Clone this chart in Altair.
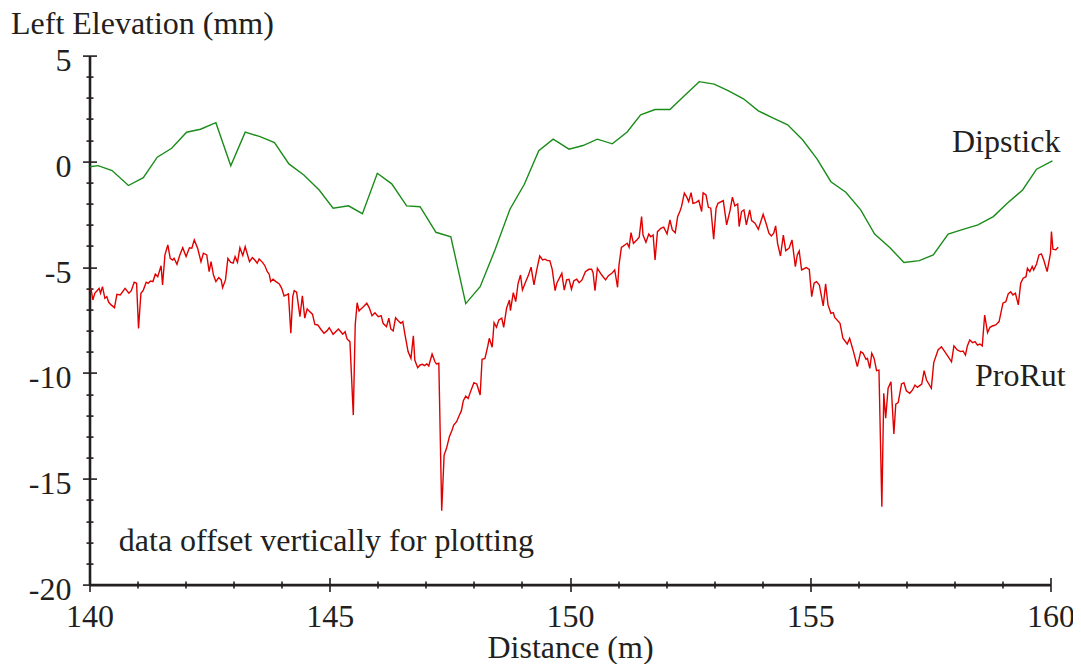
import altair as alt
import pandas as pd

FONT = "Liberation Serif"
INK = "#231f20"
GREEN = "#1a8c1a"
RED = "#e10000"

# ---- Dipstick readings (distance m, elevation mm) ----
dip_d = [140.01, 140.18, 140.47, 140.81, 141.12, 141.41, 141.71, 142.02, 142.31, 142.63,
         142.94, 143.24, 143.55, 143.85, 144.15, 144.46, 144.78, 145.07, 145.39, 145.68,
         145.99, 146.29, 146.60, 146.88, 147.21, 147.52, 147.83, 148.13, 148.44, 148.75,
         149.05, 149.35, 149.65, 149.98, 150.27, 150.57, 150.88, 151.19, 151.47, 151.77,
         152.08, 152.38, 152.69, 153.00, 153.29, 153.61, 153.92, 154.23, 154.53, 154.84,
         155.14, 155.43, 155.74, 156.05, 156.34, 156.66, 156.95, 157.27, 157.56, 157.87,
         158.18, 158.49, 158.81, 159.10, 159.42, 159.71, 160.04]
dip_v = [-0.25, -0.20, -0.43, -1.14, -0.77, 0.20, 0.62, 1.38, 1.52, 1.83,
         -0.21, 1.38, 1.17, 0.89, -0.12, -0.64, -1.35, -2.21, -2.10, -2.47,
         -0.56, -1.06, -2.10, -2.14, -3.35, -3.56, -6.72, -5.92, -4.18, -2.26,
         -1.08, 0.51, 1.05, 0.58, 0.75, 1.05, 0.83, 1.39, 2.20, 2.45,
         2.45, 3.10, 3.77, 3.65, 3.35, 2.96, 2.39, 2.04, 1.73, 1.02,
         0.12, -0.96, -1.46, -2.29, -3.43, -4.08, -4.78, -4.69, -4.42, -3.43,
         -3.21, -3.00, -2.61, -1.98, -1.35, -0.37, 0.02]

# ---- ProRut profile (distance m, elevation mm) ----
pro_d = [140.03, 140.07, 140.11, 140.17, 140.20, 140.23, 140.27, 140.32, 140.36, 140.40,
         140.45, 140.52, 140.57, 140.64, 140.74, 140.82, 140.87, 140.93, 140.98, 141.02,
         141.07, 141.12, 141.18, 141.22, 141.27, 141.32, 141.37, 141.42, 141.49, 141.52,
         141.57, 141.63, 141.68, 141.73, 141.76, 141.82, 141.88, 141.94, 142.01, 142.08,
         142.13, 142.18, 142.25, 142.32, 142.37, 142.44, 142.49, 142.53, 142.58, 142.63,
         142.69, 142.74, 142.77, 142.83, 142.88, 142.94, 142.99, 143.03, 143.08, 143.13,
         143.19, 143.24, 143.33,
         143.39, 143.44, 143.49, 143.53, 143.60, 143.65, 143.70, 143.74, 143.77, 143.82,
         143.88, 143.95, 144.00, 144.05, 144.10, 144.14, 144.19, 144.23, 144.26, 144.31,
         144.38, 144.43, 144.48, 144.53, 144.57, 144.64, 144.69, 144.75, 144.81, 144.88,
         144.94, 144.99, 145.07, 145.18, 145.23, 145.27, 145.32, 145.36, 145.42, 145.49,
         145.53, 145.57, 145.61, 145.65, 145.70, 145.77, 145.82, 145.88, 145.94, 146.01,
         146.07, 146.11, 146.18, 146.23, 146.27, 146.32, 146.37, 146.43, 146.48, 146.52,
         146.56, 146.63, 146.69, 146.74, 146.77, 146.83, 146.88, 146.93,
         146.97, 147.02, 147.06, 147.13, 147.19, 147.22, 147.27, 147.33, 147.38, 147.43,
         147.49, 147.54, 147.58, 147.64, 147.69, 147.74, 147.78, 147.83, 147.88, 147.93,
         148.00, 148.06, 148.13, 148.17, 148.23, 148.29, 148.32, 148.38, 148.42, 148.47,
         148.52, 148.58, 148.62, 148.68, 148.74, 148.76, 148.82, 148.87, 148.92, 148.97,
         149.01, 149.08, 149.13, 149.19, 149.25, 149.31, 149.37, 149.43, 149.48, 149.53,
         149.58, 149.63, 149.69, 149.73, 149.83, 149.88, 149.93, 149.98, 150.03, 150.08,
         150.14, 150.19, 150.25, 150.32, 150.39, 150.45, 150.48,
         150.52, 150.57, 150.66, 150.74, 150.80, 150.87, 150.93, 150.99, 151.02, 151.07,
         151.14, 151.19, 151.23, 151.27, 151.32, 151.39, 151.44, 151.49, 151.52, 151.58,
         151.64, 151.68, 151.73, 151.77, 151.82, 151.89, 151.95, 152.02, 152.08, 152.13,
         152.19, 152.24, 152.29, 152.32, 152.38, 152.43, 152.47, 152.52, 152.56, 152.62,
         152.68, 152.74, 152.77, 152.83, 152.88, 152.93, 152.99, 153.04, 153.08, 153.19,
         153.26, 153.33, 153.38, 153.43, 153.49, 153.52, 153.57, 153.62, 153.67, 153.74,
         153.78, 153.85, 153.92,
         154.02, 154.08, 154.14, 154.19, 154.24, 154.28, 154.32, 154.38, 154.44, 154.49,
         154.56, 154.62, 154.69, 154.73, 154.77, 154.82, 154.92, 154.98, 155.03, 155.08,
         155.13, 155.19, 155.27, 155.32, 155.37, 155.43, 155.48, 155.51, 155.62, 155.68,
         155.77, 155.82, 155.89, 155.98, 156.05, 156.10, 156.16, 156.19, 156.24, 156.28,
         156.33, 156.38, 156.43, 156.49, 156.53, 156.57, 156.62, 156.68, 156.74, 156.78,
         156.83, 156.90, 156.95, 157.00, 157.07, 157.13, 157.18, 157.23, 157.32, 157.37,
         157.42,
         157.52, 157.57, 157.66, 157.73, 157.80, 157.87, 157.94, 157.99, 158.06, 158.13,
         158.18, 158.23, 158.27, 158.32, 158.38, 158.43, 158.48, 158.53, 158.58, 158.63,
         158.69, 158.74, 158.79, 158.86, 158.93, 159.01, 159.07, 159.12, 159.17, 159.22,
         159.27, 159.33, 159.38, 159.43, 159.49, 159.52, 159.57, 159.62, 159.65, 159.71,
         159.76, 159.81, 159.86, 159.93, 160.00, 160.02, 160.05, 160.11, 160.16]
pro_v = [-6.00, -6.55, -6.23, -6.08, -6.00, -6.23, -5.92, -6.47, -6.39, -6.66,
         -6.78, -6.91, -6.28, -6.31, -6.00, -6.23, -6.11, -5.71, -5.76, -7.89,
         -6.23, -6.08, -5.71, -5.76, -5.65, -5.68, -5.33, -5.45, -4.93, -5.84,
         -4.42, -3.95, -4.58, -4.66, -4.58, -4.86, -4.42, -4.08, -4.50, -4.08,
         -4.10, -3.71, -4.10, -4.74, -4.34, -4.42, -5.21, -4.74, -5.37, -5.68,
         -5.49, -5.60, -5.97, -5.60, -4.58, -4.77, -4.81, -4.50, -4.77, -4.08,
         -4.45, -4.03, -4.74,
         -4.55, -4.66, -4.81, -4.61, -4.77, -4.93, -5.21, -5.33, -5.68, -5.57,
         -5.68, -5.79, -6.00, -6.36, -6.31, -6.26, -8.12, -6.39, -6.11, -6.18,
         -7.34, -6.35, -7.41, -6.97, -7.07, -7.22, -7.70, -7.73, -7.92, -8.12,
         -8.01, -7.86, -8.17, -7.92, -8.05, -8.17, -8.05, -8.39, -8.52, -11.99,
         -7.73, -6.68, -7.07, -6.97, -6.87, -6.70, -6.91, -7.29, -7.15, -7.34,
         -7.29, -7.65, -7.81, -7.41, -7.92, -8.01, -7.39, -7.54, -7.65, -7.57,
         -8.12, -8.99, -9.31, -8.24, -9.39, -9.75, -9.62, -9.59,
         -9.65, -9.57, -9.67, -9.10, -9.47, -9.57, -9.54, -16.51, -13.88, -13.56,
         -13.01, -12.73, -12.46, -12.30, -12.03, -11.78, -11.31, -11.09, -11.20, -10.88,
         -10.46, -10.52, -11.04, -9.35, -9.31, -8.72, -8.36, -8.78, -7.62, -7.84,
         -7.49, -7.41, -7.84, -6.94, -6.55, -7.05, -6.20, -6.63, -5.76, -5.37,
         -6.08, -5.68, -5.41, -5.00, -5.84, -5.10, -4.47, -4.66, -4.62, -4.69,
         -4.69, -5.10, -6.11, -5.73, -5.29, -6.08, -5.60, -5.57, -6.04, -5.64,
         -5.57, -5.73, -5.60, -5.21, -5.10, -5.10, -5.26,
         -6.11, -5.05, -5.37, -5.60, -5.40, -5.29, -5.13, -5.95, -4.89, -4.06,
         -3.95, -3.87, -4.06, -3.37, -3.87, -3.71, -3.58, -2.61, -3.48, -3.82,
         -3.43, -3.56, -3.48, -4.66, -3.32, -3.16, -3.11, -3.43, -2.77, -3.24,
         -3.37, -2.61, -2.34, -2.14, -1.50, -1.69, -1.90, -1.48, -1.98, -1.95,
         -1.85, -2.37, -1.48, -1.58, -2.17, -2.21, -3.68, -2.21, -1.98, -1.85,
         -3.00, -2.33, -1.69, -2.10, -2.01, -3.08, -2.37, -2.29, -3.00, -2.29,
         -2.80, -2.92, -3.21,
         -2.50, -2.92, -3.39, -3.52, -3.39, -3.05, -3.87, -4.47, -3.48, -4.22,
         -4.10, -3.71, -4.97, -4.42, -4.23, -5.13, -5.02, -5.10, -6.39, -5.76,
         -5.68, -5.84, -6.83, -5.79, -6.78, -7.18, -7.15, -7.37, -7.65, -8.36,
         -8.63, -8.36, -8.91, -9.70, -8.99, -9.07, -9.35, -9.31, -9.78, -9.07,
         -9.31, -9.89, -9.86, -16.32, -10.96, -12.14, -10.72, -10.41, -12.88, -11.47,
         -11.40, -10.52, -10.46, -10.84, -10.96, -10.80, -10.57, -10.68, -10.52, -9.89,
         -10.33,
         -10.72, -9.51, -8.91, -8.76, -8.99, -9.23, -9.47, -8.72, -8.91, -8.99,
         -8.96, -9.15, -8.72, -8.44, -8.57, -8.52, -8.68, -8.63, -8.72, -7.26,
         -8.09, -7.84, -7.78, -7.73, -7.57, -6.70, -6.63, -6.26, -6.16, -6.31,
         -6.23, -6.78, -5.76, -5.52, -5.45, -5.05, -5.21, -4.97, -5.13, -4.85,
         -4.42, -4.37, -4.66, -5.21, -4.34, -3.32, -4.15, -4.18, -4.06]

# ---- annotations ----
note_text = ["Dipstick", "ProRut", "data offset vertically for plotting"]
note_d = [157.95, 158.43, 140.61]
note_v = [0.46, -10.61, -18.42]

# ---- axis ticks ----
x_major = [140, 145, 150, 155, 160]
x_minor = [v for v in range(140, 161) if v % 5 != 0]
y_major = [-20, -15, -10, -5, 0, 5]
y_minor = [v for v in range(-20, 6) if v % 5 != 0]

lines_df = pd.concat([
    pd.DataFrame({"d": dip_d, "v": dip_v, "series": "Dipstick"}),
    pd.DataFrame({"d": pro_d, "v": pro_v, "series": "ProRut"}),
], ignore_index=True)
notes_df = pd.DataFrame({"d": note_d, "v": note_v, "label": note_text})

FS = 32
x_scale = alt.Scale(domain=[140, 160], nice=False, zero=False)
y_scale = alt.Scale(domain=[-20, 5], nice=False, zero=False)

# axis with the line and labels (no ticks)
x_main = alt.Axis(
    orient="bottom", values=x_major, title="Distance (m)", grid=False,
    domainColor=INK, domainWidth=2.6, ticks=False, tickSize=0,
    labelFont=FONT, labelFontSize=FS, labelColor=INK, format="d",
    labelBaseline="alphabetic", labelPadding=41.5, labelFlush=False, labelOverlap=False,
    titleFont=FONT, titleFontSize=FS, titleFontWeight="normal", titleColor=INK,
    titleBaseline="alphabetic", titleY=73,
)
y_main = alt.Axis(
    orient="left", values=y_major, title="Left Elevation (mm)", grid=False,
    domainColor=INK, domainWidth=2.6, ticks=False, tickSize=0,
    labelExpr="toString(datum.value)",
    labelFont=FONT, labelFontSize=FS, labelColor=INK,
    labelAlign="right", labelBaseline="alphabetic", labelOffset=15, labelPadding=18.5,
    labelFlush=False, labelOverlap=False,
    titleFont=FONT, titleFontSize=FS, titleFontWeight="normal", titleColor=INK,
    titleAngle=0, titleAlign="left", titleBaseline="alphabetic", titleX=-79, titleY=-22,
)


def tick_axis(orient, vals, size):
    return alt.Axis(orient=orient, values=vals, title="", grid=False, domain=False,
                    labels=False, tickColor=INK, tickWidth=1.6, tickSize=size,
                    offset=-size / 2)


lines = alt.Chart(lines_df).mark_line(strokeWidth=1.4).encode(
    x=alt.X("d:Q", axis=x_main, scale=x_scale),
    y=alt.Y("v:Q", axis=y_main, scale=y_scale),
    color=alt.Color("series:N", legend=None,
                    scale=alt.Scale(domain=["Dipstick", "ProRut"], range=[GREEN, RED])),
    order="d:Q",
)

notes = alt.Chart(notes_df).mark_text(
    align="left", baseline="alphabetic", font=FONT, fontSize=FS, color=INK
).encode(
    x=alt.X("d:Q", axis=tick_axis("bottom", x_major, 14), scale=x_scale),
    y=alt.Y("v:Q", axis=tick_axis("left", y_major, 14), scale=y_scale),
    text="label:N",
)

minor = alt.Chart(notes_df).mark_point(opacity=0).encode(
    x=alt.X("d:Q", axis=tick_axis("bottom", x_minor, 7), scale=x_scale),
    y=alt.Y("v:Q", axis=tick_axis("left", y_minor, 7), scale=y_scale),
)

chart = alt.layer(lines, notes, minor).resolve_axis(
    x="independent", y="independent"
).properties(
    width=961, height=529,
    autosize=alt.AutoSizeParams(type="none"),
    padding={"left": 81.5, "top": 47.6, "right": 22, "bottom": 79},
    background="white",
).configure_view(strokeWidth=0)

chart.save("out.html", embed_options={"renderer": "svg", "actions": False})
